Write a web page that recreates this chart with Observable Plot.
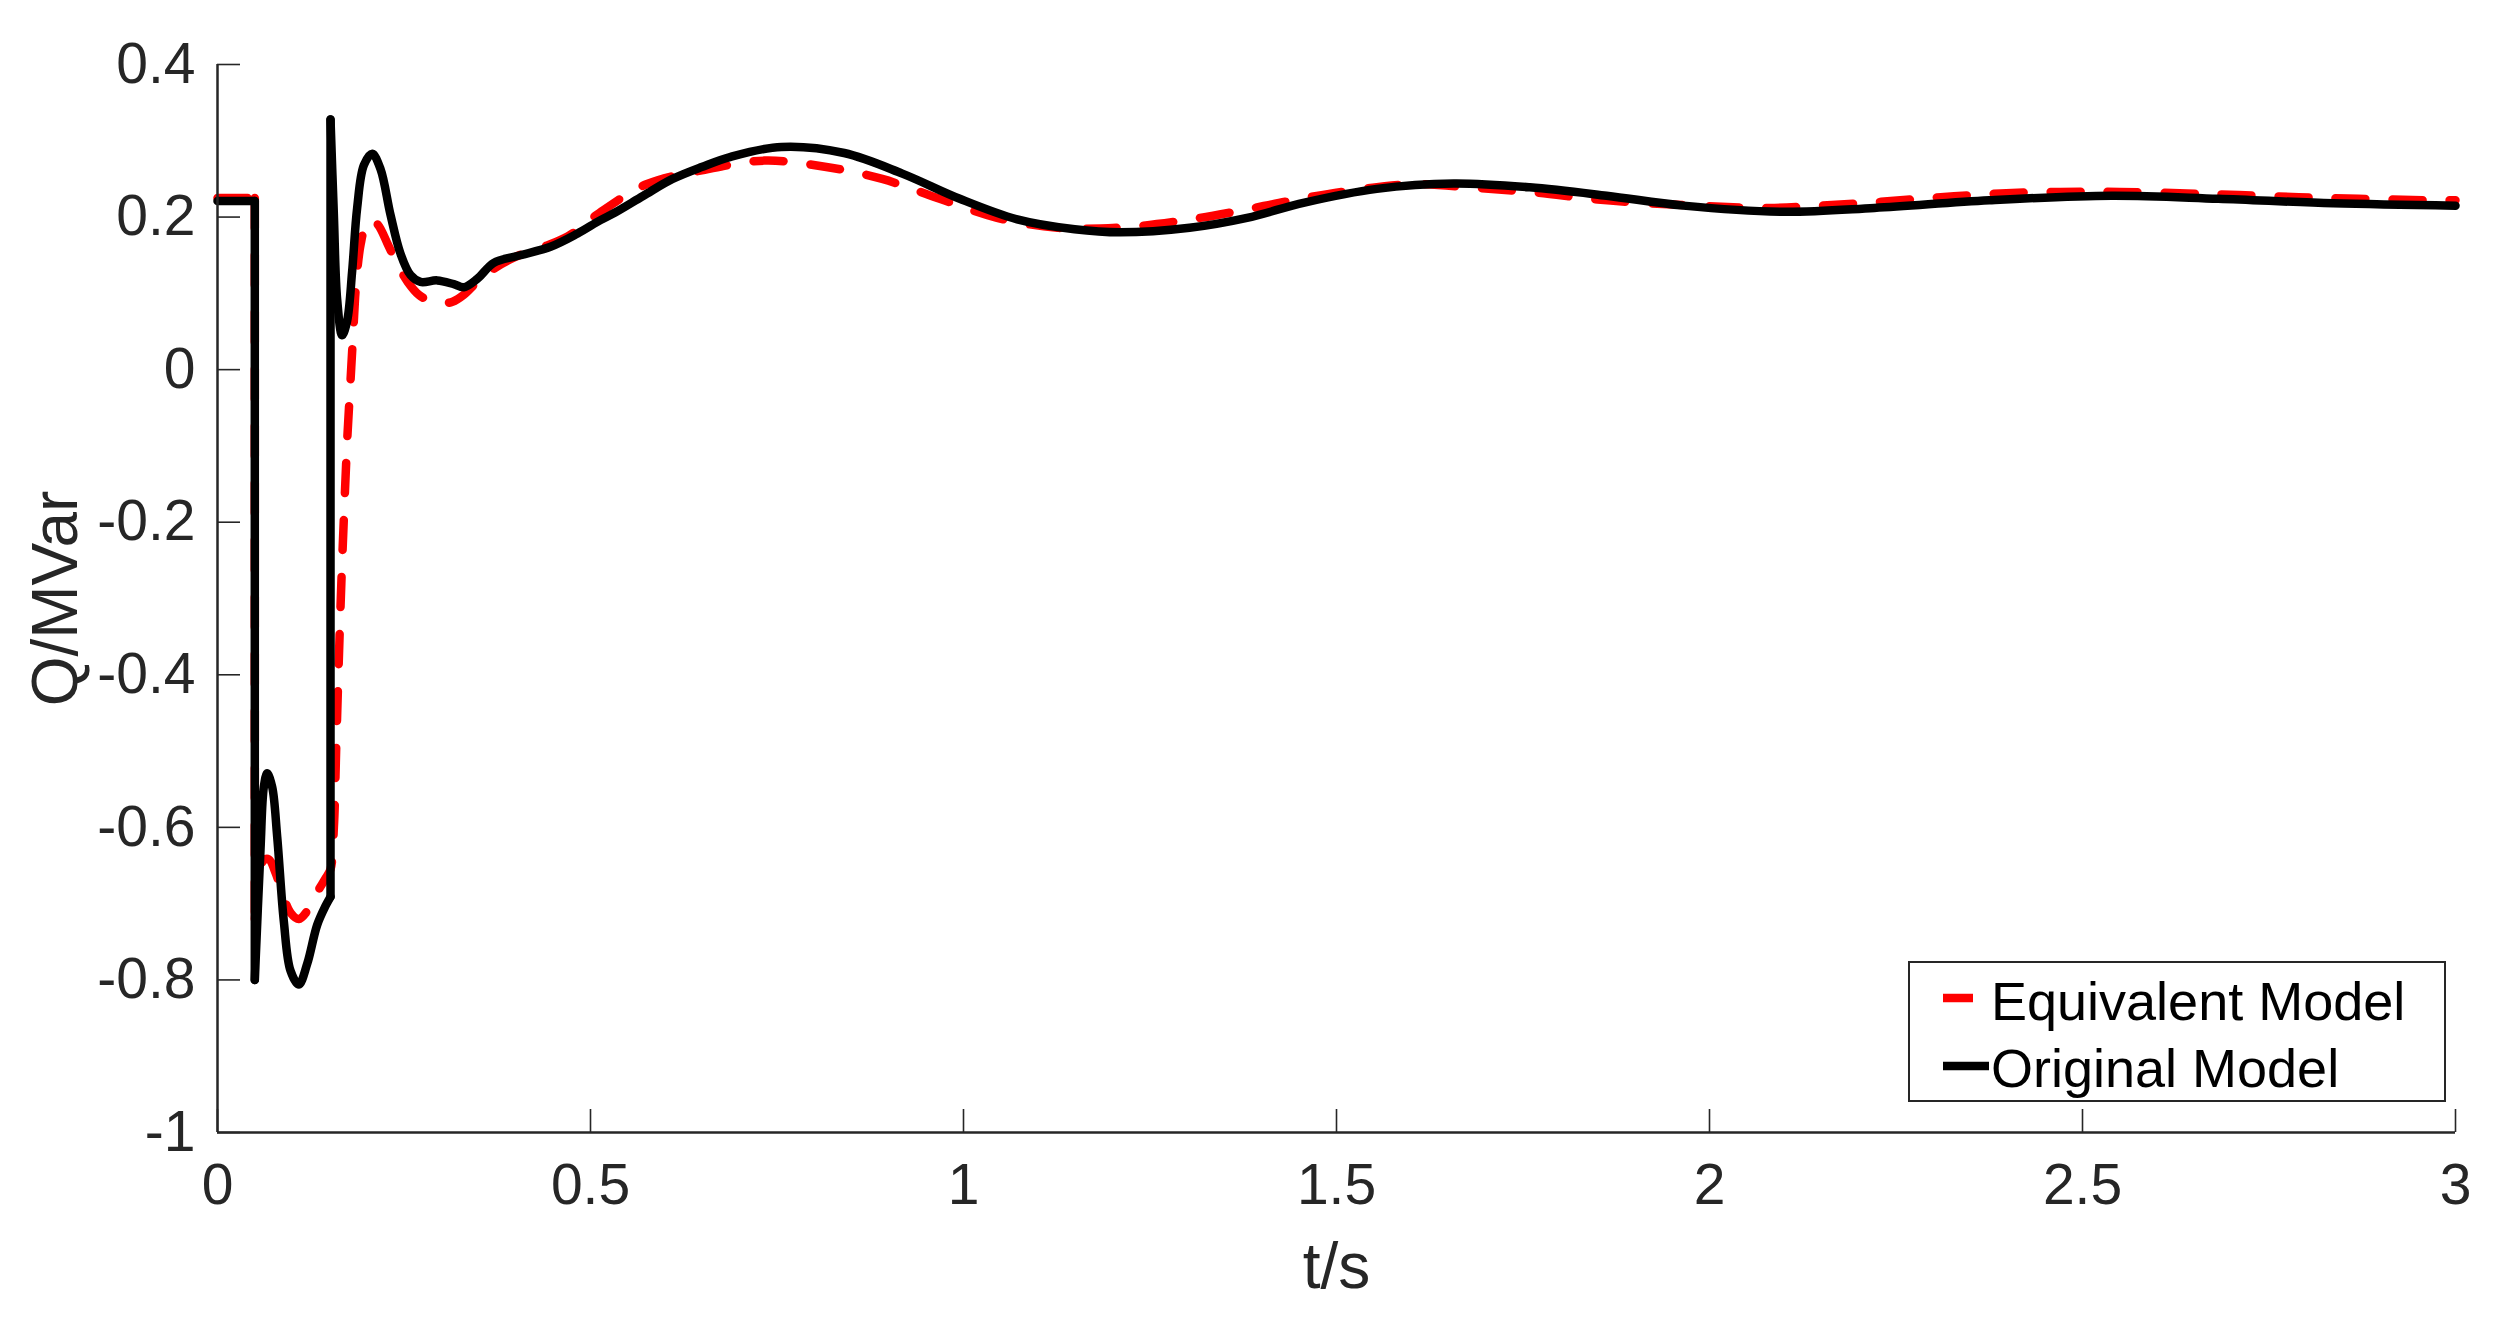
<!DOCTYPE html>
<html>
<head>
<meta charset="utf-8">
<script src="https://cdn.jsdelivr.net/npm/d3@7"></script>
<script src="https://cdn.jsdelivr.net/npm/@observablehq/plot@0.6"></script>
<style>
  html, body { margin: 0; padding: 0; background: #fff; }
  #wrap { position: relative; width: 2500px; height: 1318px; font-family: "Liberation Sans", Arial, sans-serif; }
  #legend { position: absolute; left: 1908px; top: 961px; }
</style>
</head>
<body>
<div id="wrap"></div>
<script>
// ---- data ----
const xTicks = [0, 0.5, 1, 1.5, 2, 2.5, 3];
const xTickLabels = ["0", "0.5", "1", "1.5", "2", "2.5", "3"];
const yTicks = [0.4, 0.2, 0, -0.2, -0.4, -0.6, -0.8, -1];
const yTickLabels = ["0.4", "0.2", "0", "-0.2", "-0.4", "-0.6", "-0.8", "-1"];
const xLabel = "t/s";
const yLabel = "Q/MVar";
const seriesNames = ["Equivalent Model", "Original Model"];

const tOriginal = [0, 0.049, 0.050, 0.050, 0.0576, 0.0621, 0.0666, 0.0733, 0.0800, 0.0889,
  0.0979, 0.1090, 0.1202, 0.1336, 0.1448, 0.1515, 0.1515, 0.1560, 0.1604, 0.1671,
  0.1738, 0.1805, 0.1872, 0.1962, 0.2074, 0.2185, 0.2319, 0.2453, 0.2587, 0.2721,
  0.2945, 0.3168, 0.3302, 0.3481, 0.3704, 0.4017, 0.4464, 0.4821, 0.5134, 0.533,
  0.571, 0.610, 0.650, 0.688, 0.756, 0.840, 0.918, 0.995, 1.072, 1.149,
  1.210, 1.303, 1.380, 1.457, 1.554, 1.657, 1.759, 1.862, 1.965, 2.098,
  2.221, 2.375, 2.539, 2.682, 2.836, 3.000];
const qOriginal = [0.221, 0.221, 0.221, -0.800, -0.630, -0.547, -0.529, -0.547, -0.612, -0.723,
  -0.788, -0.806, -0.779, -0.728, -0.703, -0.691, 0.328, 0.203, 0.092, 0.045,
  0.064, 0.129, 0.212, 0.268, 0.283, 0.263, 0.203, 0.152, 0.124, 0.115,
  0.117, 0.112, 0.108, 0.119, 0.140, 0.149, 0.161, 0.178, 0.196, 0.206,
  0.228, 0.250, 0.266, 0.279, 0.292, 0.284, 0.257, 0.224, 0.197, 0.184,
  0.180, 0.186, 0.199, 0.219, 0.237, 0.244, 0.239, 0.228, 0.215, 0.207,
  0.212, 0.222, 0.228, 0.224, 0.218, 0.215];

const tEquivalent = [0, 0.049, 0.050, 0.050, 0.0560, 0.0620, 0.0690, 0.0780, 0.0880, 0.0980,
  0.1090, 0.1200, 0.1336, 0.1448, 0.1515, 0.1560, 0.1590, 0.1620, 0.1660, 0.1700,
  0.1740, 0.1780, 0.1820, 0.1860, 0.1920, 0.1990, 0.2060, 0.2150, 0.2280, 0.2400,
  0.2550, 0.2700, 0.2850, 0.3000, 0.3150, 0.3300, 0.3480, 0.3700, 0.4000, 0.4370,
  0.4700, 0.5070, 0.5750, 0.6530, 0.7330, 0.8140, 0.8910, 0.9680, 1.0450, 1.1260,
  1.2060, 1.2840, 1.3640, 1.4410, 1.5210, 1.6000, 1.6900, 1.7700, 1.8500, 1.9800,
  2.0800, 2.1500, 2.2300, 2.3100, 2.3900, 2.4700, 2.5500, 2.6400, 2.7100, 2.7900,
  2.8700, 2.9600, 3.0000];
const qEquivalent = [0.225, 0.225, 0.225, -0.720, -0.660, -0.643, -0.642, -0.660, -0.690, -0.712,
  -0.720, -0.710, -0.685, -0.667, -0.655, -0.600, -0.500, -0.400, -0.280, -0.180,
  -0.090, -0.020, 0.050, 0.115, 0.165, 0.190, 0.196, 0.190, 0.165, 0.140,
  0.115, 0.098, 0.090, 0.087, 0.089, 0.098, 0.115, 0.132, 0.148, 0.161,
  0.175, 0.202, 0.243, 0.262, 0.274, 0.266, 0.250, 0.224, 0.199, 0.186,
  0.186, 0.194, 0.207, 0.222, 0.235, 0.243, 0.238, 0.232, 0.223, 0.215,
  0.212, 0.215, 0.220, 0.226, 0.231, 0.233, 0.233, 0.231, 0.229, 0.226,
  0.224, 0.222, 0.222];

// ---- build tables: split into smooth runs and vertical jumps ----
function toRuns(ts, qs) {
  const rows = ts.map((t, i) => ({t, q: qs[i]}));
  const runs = [];
  let cur = [rows[0]];
  for (let i = 1; i < rows.length; i++) {
    if (rows[i].t === rows[i - 1].t) {
      runs.push(cur);
      runs.push([rows[i - 1], rows[i]]);
      cur = [rows[i]];
    } else {
      cur.push(rows[i]);
    }
  }
  runs.push(cur);
  return runs.flatMap((r, k) => r.map(p => ({...p, seg: k})));
}
const original = toRuns(tOriginal, qOriginal);
const equivalent = toRuns(tEquivalent, qEquivalent);

const axisColor = "#262626";
const font = "Liberation Sans, Arial, sans-serif";

const chart = Plot.plot({
  width: 2500,
  height: 1318,
  marginLeft: 217,
  marginRight: 45,
  marginTop: 64,
  marginBottom: 186,
  style: {fontFamily: font, color: axisColor, background: "white", overflow: "visible"},
  x: {domain: [0, 3]},
  y: {domain: [-1, 0.4]},
  marks: [
    Plot.line(equivalent, {x: "t", y: "q", z: "seg", stroke: "#ff0000", strokeWidth: 8.5,
      strokeDasharray: "30,27", curve: "catmull-rom", strokeLinejoin: "round"}),
    Plot.line(original, {x: "t", y: "q", z: "seg", stroke: "#000000", strokeWidth: 8.5,
      curve: "catmull-rom", strokeLinejoin: "round", strokeLinecap: "round"}),
    Plot.ruleY([-1], {stroke: axisColor, strokeWidth: 2.5}),
    Plot.ruleX([0], {stroke: axisColor, strokeWidth: 2.5}),
    Plot.axisX({ticks: xTicks, tickFormat: d => xTickLabels[xTicks.indexOf(d)],
      tickSize: -23, tickPadding: 54, fontSize: 57, stroke: axisColor, strokeWidth: 1.6, label: null}),
    Plot.axisY({ticks: yTicks, tickFormat: d => yTickLabels[yTicks.indexOf(d)],
      tickSize: -23, tickPadding: 45, fontSize: 57, stroke: axisColor, strokeWidth: 1.6, label: null}),
    Plot.text([yLabel], {text: d => d, frameAnchor: "left", textAnchor: "middle", lineAnchor: "middle",
      rotate: -90, dx: -161, fontSize: 64, fill: axisColor}),
    Plot.text([xLabel], {text: d => d, frameAnchor: "bottom", textAnchor: "middle", lineAnchor: "middle",
      dy: 135, fontSize: 64, fill: axisColor})
  ]
});

const wrap = document.getElementById("wrap");
wrap.appendChild(chart);

// ---- legend (inside the axes, bottom right) ----
const lw = 538, lh = 141;
const leg = d3.create("svg").attr("id", "legend").attr("width", lw).attr("height", lh)
  .style("font-family", font);
leg.append("rect").attr("x", 1).attr("y", 1).attr("width", lw - 2).attr("height", lh - 2)
  .attr("fill", "white").attr("stroke", axisColor).attr("stroke-width", 2);
const rows = [
  {name: seriesNames[0], stroke: "#ff0000", dash: "30,27", ly: 37, ty: 59},
  {name: seriesNames[1], stroke: "#000000", dash: null, ly: 105, ty: 126}
];
for (const r of rows) {
  leg.append("line").attr("x1", 35).attr("x2", 81).attr("y1", r.ly).attr("y2", r.ly)
    .attr("stroke", r.stroke).attr("stroke-width", 8.5)
    .attr("stroke-dasharray", r.dash);
  leg.append("text").attr("x", 83).attr("y", r.ty).attr("font-size", 54)
    .attr("fill", "#000").text(r.name);
}
wrap.appendChild(leg.node());
</script>
</body>
</html>
